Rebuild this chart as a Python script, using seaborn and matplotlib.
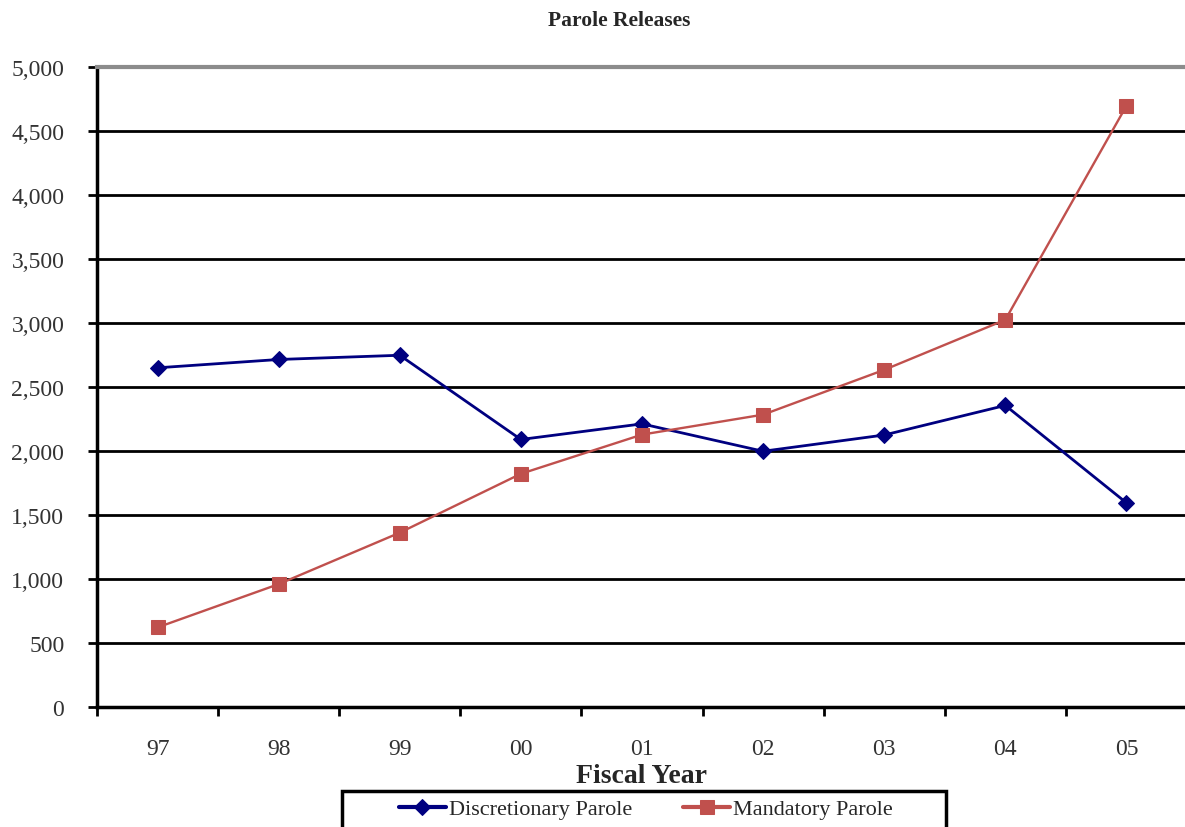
import matplotlib
matplotlib.use("Agg")
import matplotlib.pyplot as plt
from matplotlib.patches import Rectangle
import seaborn as sns
import pandas as pd
import numpy as np

# Fiscal years and release counts
years = ["97", "98", "99", "00", "01", "02", "03", "04", "05"]
discretionary = [2650, 2715, 2748, 2090, 2212, 1998, 2125, 2356, 1595]
mandatory = [622, 960, 1362, 1822, 2128, 2284, 2634, 3025, 4697]
y_ticks = [0, 500, 1000, 1500, 2000, 2500, 3000, 3500, 4000, 4500, 5000]

sns.set_theme(style="white")
plt.rcParams["font.family"] = ["Liberation Serif", "DejaVu Serif"]

df = pd.DataFrame({
    "pos": np.arange(len(years)),
    "Discretionary Parole": discretionary,
    "Mandatory Parole": mandatory,
})

W, H = 1185, 828
fig = plt.figure(figsize=(W / 100, H / 100), dpi=100)
ax = fig.add_axes([97 / W, 1 - 708 / H, (1187 - 97) / W, (708 - 68) / H])

navy = "#000080"
red = "#C0504D"

sns.lineplot(data=df, x="pos", y="Discretionary Parole", ax=ax, color=navy,
             marker="D", markersize=8, linewidth=2, markeredgecolor=navy,
             label="Discretionary Parole", legend=False)
sns.lineplot(data=df, x="pos", y="Mandatory Parole", ax=ax, color=red,
             marker="s", markersize=10, linewidth=1.7, markeredgecolor=red,
             label="Mandatory Parole", legend=False)

ax.set_xlim(-0.5, len(years) - 0.5)
ax.set_ylim(0, 5000)

# horizontal gridlines
for v in y_ticks[1:-1]:
    ax.axhline(v, color="black", linewidth=2, zorder=0.5)

ax.set_yticks(y_ticks)
ax.set_yticklabels([f"{v:,}" for v in y_ticks], fontsize=17, color="#333333")

ax.set_xticks(np.arange(-0.5, len(years), 1.0))
ax.set_xticklabels([])
ax.set_xticks(np.arange(len(years)), minor=True)
ax.set_xticklabels(years, minor=True, fontsize=17, color="#333333")
ax.tick_params(axis="x", which="major", direction="out", length=6.5, width=2, color="black", bottom=True)
ax.tick_params(axis="x", which="minor", length=0, pad=22)
ax.tick_params(axis="y", direction="out", length=6.5, width=2, color="black", left=True, pad=17)

for s in ["left", "bottom"]:
    ax.spines[s].set_color("black")
    ax.spines[s].set_linewidth(2.5)
ax.spines["top"].set_color("#8c8c8c")
ax.spines["top"].set_linewidth(3)
ax.spines["right"].set_visible(False)

ax.set_xlabel("Fiscal Year", fontsize=20, fontweight="bold", labelpad=3)
ax.set_ylabel("")
ax.set_title("Parole Releases", fontsize=15.5, fontweight="bold", pad=30, x=(619 - 97) / 1090)

# legend entries without frame, with a separate box around them
handles, labels = ax.get_legend_handles_labels()
leg = fig.legend(handles, labels, loc="center", ncol=2,
                 bbox_to_anchor=(646 / W, 1 - 810 / H), fontsize=16,
                 frameon=False, handlelength=2.1, columnspacing=2.3,
                 handletextpad=0.15, borderpad=0)
for line in leg.get_lines():
    line.set_linewidth(3)
fig.patches.append(Rectangle((342 / W, -0.05), (946 - 342) / W, 0.05 + (828 - 792) / H,
                             transform=fig.transFigure, fill=False,
                             edgecolor="black", linewidth=2.5))

fig.savefig("out.png", dpi=100)
